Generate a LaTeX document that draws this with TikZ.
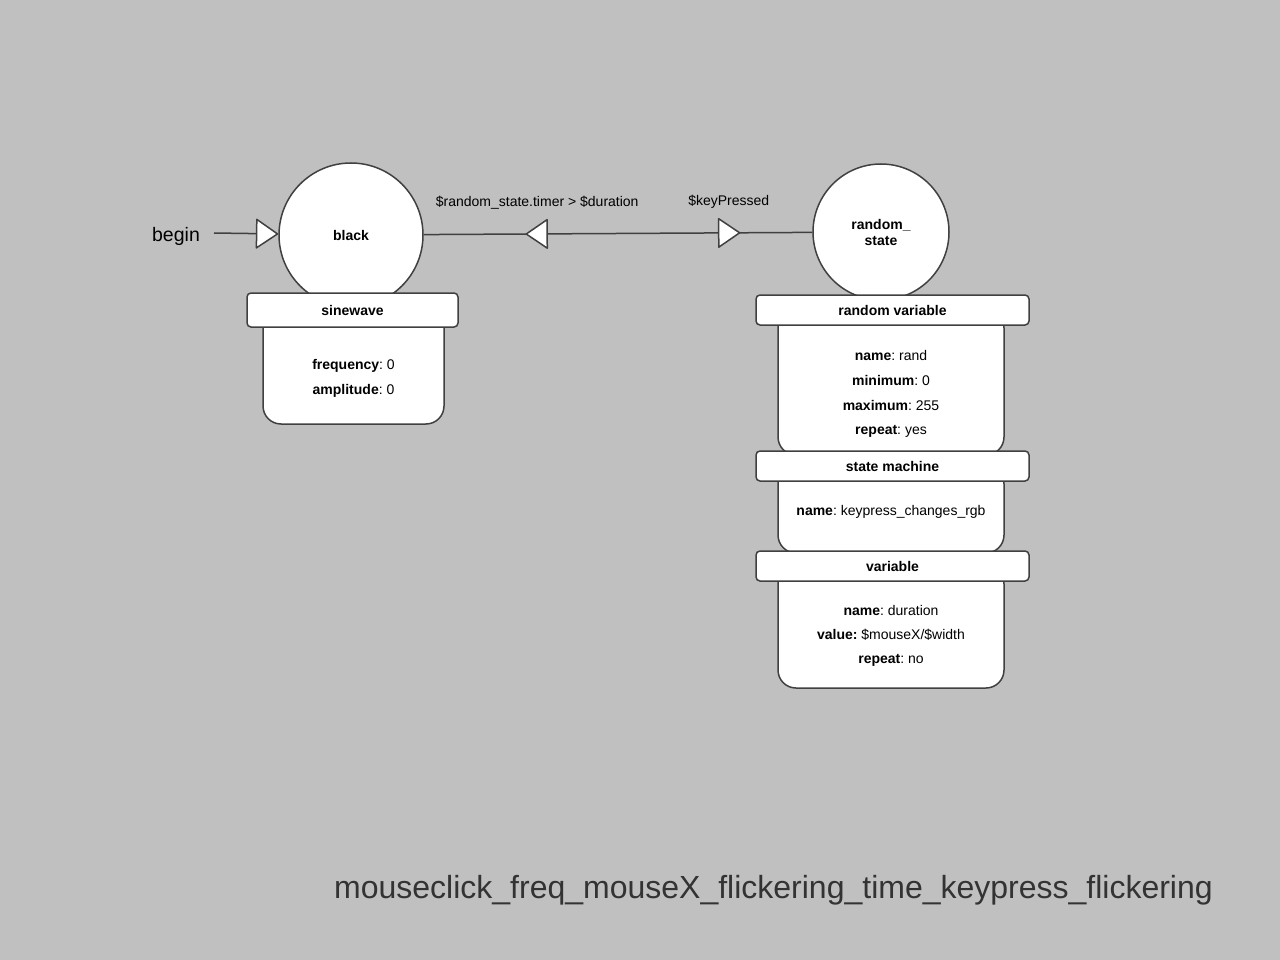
\documentclass[tikz,border=0pt]{standalone}
\usepackage{fontspec}
\setmainfont{Liberation Sans}
\frenchspacing
\usetikzlibrary{arrows.meta,decorations.markings}
\definecolor{bgc}{HTML}{C0C0C0}
\definecolor{linec}{HTML}{404040}
\definecolor{titlec}{HTML}{333333}
\tikzset{
  conn/.style={draw=linec, line width=1.5pt},
  tri/.tip={Triangle[width=31pt,length=23pt,fill=white,round]},
  statecirc/.style={circle, draw=linec, fill=white, line width=1.5pt, inner sep=0pt, font=\fontsize{14}{16}\selectfont\bfseries, align=center},
  hdr/.style={rectangle, draw=linec, fill=white, line width=1.5pt, rounded corners=4pt, inner sep=0pt, minimum width=#1, font=\fontsize{14}{16}\selectfont\bfseries},
  bodybox/.style={rectangle, draw=linec, fill=white, line width=1.5pt, rounded corners=18pt, inner sep=0pt, minimum width=226pt},
  txt/.style={font=\fontsize{14}{16}\selectfont\frenchspacing, inner sep=0pt, yshift=-2pt},
}
\begin{document}
\begin{tikzpicture}[x=1pt,y=-1pt]
\fill[bgc] (0,0) rectangle (1280,960);
\useasboundingbox (0,0) rectangle (1280,960);

% states
\node[statecirc, minimum size=144pt] (black) at (351,235) {black};
\node[statecirc, minimum size=136pt] (rs) at (881,232) {random\_\\state};

% begin
\node[font=\fontsize{19.5}{22}\selectfont, inner sep=0pt] (begin) at (176,236) {begin};
\coordinate (start) at (214,233);
\draw[conn, -{tri}] (start) -- (black);

% transitions
\draw[conn, postaction={decorate}, decoration={markings,
   mark=at position 0.815 with {\arrow{tri}},
   mark=at position 0.262 with {\arrowreversed{tri}}}]
  (black) -- (rs)
  node[font=\fontsize{14}{16}\selectfont, inner sep=0pt, pos=0.292, above=24pt] (l1) {\$random\_state.timer > \$duration}
  node[font=\fontsize{14}{16}\selectfont, inner sep=0pt, pos=0.785, above=24pt] (l2) {\$keyPressed};

% sinewave
\node[bodybox, minimum width=181pt, minimum height=114pt] (swbody) at (353.5,367) {};
\node[hdr=211pt, minimum height=34pt] (swhdr) at (352.5,310) {sinewave};
\node[txt] (sw1) at (353.5,364) {\textbf{frequency}: 0};
\node[txt] (sw2) at (353.5,389) {\textbf{amplitude}: 0};

% random variable
\node[bodybox, minimum height=145pt] (rvbody) at (891,382.5) {};
\node[hdr=273pt, minimum height=30pt] (rvhdr) at (892.5,310) {random variable};
\node[txt] (rv1) at (891,353) {\textbf{name}: rand};
\node[txt] (rv2) at (891,378) {\textbf{minimum}: 0};
\node[txt] (rv3) at (891,403) {\textbf{maximum}: 255};
\node[txt] (rv4) at (891,429) {\textbf{repeat}: yes};

% state machine
\node[bodybox, minimum height=87pt] (smbody) at (891,509.5) {};
\node[hdr=273pt, minimum height=30pt] (smhdr) at (892.5,466) {state machine};
\node[txt] (sm1) at (891,510) {\textbf{name}: keypress\_changes\_rgb};

% variable
\node[bodybox, minimum height=122pt] (vbody) at (891,627) {};
\node[hdr=273pt, minimum height=30pt] (vhdr) at (892.5,566) {variable};
\node[txt] (v1) at (891,608) {\textbf{name}: duration};
\node[txt] (v2) at (891,633) {\textbf{value:} \$mouseX/\$width};
\node[txt] (v3) at (891,658) {\textbf{repeat}: no};

% title
\node[font=\fontsize{32}{36}\selectfont, text=titlec, inner sep=0pt] (title) at (773.5,890) {mouseclick\_freq\_mouseX\_flickering\_time\_keypress\_flickering};
\end{tikzpicture}
\end{document}
